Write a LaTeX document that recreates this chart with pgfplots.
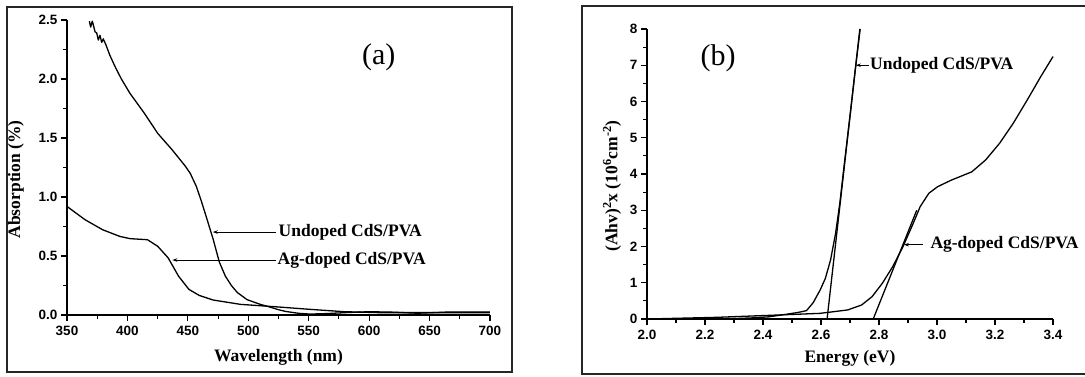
\documentclass[border=0pt]{standalone}
\usepackage{fontspec}
\setmainfont{Liberation Serif}
\newfontfamily\arialfont{Liberation Sans}
\usepackage{pgfplots}
\pgfplotsset{compat=1.18}
\usetikzlibrary{arrows.meta}
\newcommand\tickfont{\arialfont\bfseries\fontsize{13.5}{13.5}\selectfont}
\newcommand\labfont{\bfseries\fontsize{17.5}{17.5}\selectfont}
\pgfplotsset{myax/.style={
  scale only axis, axis x line=bottom, axis y line=left, axis line style={-, line width=1.2pt},
  xtick pos=left, ytick pos=left,
  xtick align=outside, ytick align=outside, major tick length=6pt, minor tick length=4pt,
  xtick style={draw=black, line width=1.1pt}, ytick style={draw=black, line width=1.1pt},
  minor x tick num=1, minor y tick num=1, clip=false,
  ticklabel style={font=\tickfont},
  xticklabel style={yshift=-2pt},
  label style={font=\labfont},
  /pgf/number format/assume math mode=true,
}, curve/.style={black, line width=1.3pt, mark=none, line join=round}}
\begin{document}
\begin{tikzpicture}
\useasboundingbox (0pt,0pt) rectangle (1085pt,376pt);
\draw[line width=1.6pt, black!85] (7pt,4pt) rectangle (512pt,369pt);
\draw[line width=1.6pt, black!85] (582pt,2pt) rectangle (1100pt,370pt);

\begin{axis}[myax, at={(67pt,61pt)}, anchor=south west, width=423pt, height=295pt,
  xmin=350, xmax=700, ymin=0, ymax=2.5,
  xtick={350,400,...,700}, ytick={0,0.5,1,1.5,2,2.5},
  yticklabel style={/pgf/number format/.cd, fixed, fixed zerofill, precision=1},
  xlabel={Wavelength (nm)}, ylabel={Absorption (\%)},
  xlabel style={at={(axis description cs:0.5,-0.1424)}, anchor=center},
  ylabel style={at={(axis description cs:-0.1206,0.46)}, anchor=center},
]
\addplot[curve] coordinates {(368.5,2.49)(369.6,2.44)(370.9,2.49)(371.5,2.47)(373.2,2.40)(374.6,2.39)(375.9,2.33)(377.3,2.37)(378.7,2.31)(380,2.34)(382.2,2.29)(385.5,2.20)(390,2.10)(395,2.00)(402,1.88)(414,1.71)(425,1.54)(437,1.40)(448,1.26)(452,1.20)(457,1.09)(461,0.97)(465,0.84)(471,0.64)(476,0.45)(481,0.33)(486,0.25)(491,0.19)(499,0.13)(510,0.09)(517,0.07)(525,0.045)(531,0.03)(542,0.014)(551,0.008)(565,0.012)(580,0.02)(600,0.028)(620,0.024)(640,0.015)(665,0.025)(700,0.025)};
\addplot[curve] coordinates {(350,0.92)(365,0.807)(379.4,0.723)(393.7,0.666)(402.3,0.647)(416.6,0.638)(425.1,0.582)(433.7,0.484)(442.3,0.329)(450.9,0.217)(459.4,0.166)(470.9,0.127)(493.7,0.09)(522.3,0.07)(550.9,0.048)(579.4,0.028)(608,0.02)(700,0.02)};
\draw[line width=0.9pt, -{Stealth[length=5pt,width=3.5pt]}] (axis cs:522.9,0.703) -- (axis cs:470.6,0.703);
\draw[line width=0.9pt, -{Stealth[length=5pt,width=3.5pt]}] (axis cs:522.8,0.466) -- (axis cs:437.2,0.466);
\node[anchor=west, font=\labfont, inner sep=0pt] at (axis cs:525,0.703) {Undoped CdS/PVA};
\node[anchor=west, font=\labfont, inner sep=0pt] at (axis cs:524.2,0.466) {Ag-doped CdS/PVA};
\node[font=\fontsize{30}{30}\selectfont] at (axis cs:608,2.18) {(a)};
\end{axis}

\begin{axis}[myax, at={(647pt,57pt)}, anchor=south west, width=406pt, height=290pt,
  xmin=2, xmax=3.4, ymin=0, ymax=8,
  xtick={2,2.2,...,3.41}, ytick={0,1,...,8},
  xticklabel style={/pgf/number format/.cd, fixed, fixed zerofill, precision=1},
  xlabel={Energy (eV)}, ylabel={(Ahv)\textsuperscript{2}x (10\textsuperscript{6}cm\textsuperscript{-2})},
  xlabel style={at={(axis description cs:0.5,-0.1345)}, anchor=center},
  ylabel style={at={(axis description cs:-0.0862,0.459)}, anchor=center},
]
\addplot[curve] coordinates {(2.0,0.0)(2.2,0.005)(2.3,0.012)(2.36,0.03)(2.42,0.06)(2.48,0.13)(2.52,0.18)(2.55,0.23)(2.573,0.45)(2.597,0.8)(2.615,1.12)(2.633,1.63)(2.65,2.35)(2.665,3.2)(2.68,4.25)(2.70,5.6)(2.72,7.0)(2.735,8.0)};
\addplot[curve] coordinates {(2.621,0)(2.734,8)};
\addplot[curve] coordinates {(2.0,0.0)(2.24,0.046)(2.419,0.1)(2.597,0.156)(2.692,0.25)(2.74,0.386)(2.776,0.616)(2.811,0.98)(2.847,1.44)(2.883,2.0)(2.918,2.64)(2.942,3.1)(2.972,3.47)(3.002,3.65)(3.049,3.83)(3.12,4.06)(3.168,4.39)(3.216,4.85)(3.263,5.4)(3.311,6.04)(3.358,6.69)(3.4,7.24)};
\addplot[curve] coordinates {(2.78,0)(2.93,3.0)};
\draw[line width=0.9pt, -{Stealth[length=5pt,width=3.5pt]}] (axis cs:2.764,7.0) -- (axis cs:2.72,7.0);
\draw[line width=0.9pt, -{Stealth[length=5pt,width=3.5pt]}] (axis cs:2.952,2.05) -- (axis cs:2.886,2.05);
\node[anchor=west, font=\labfont, inner sep=0pt] at (axis cs:2.769,7.0) {Undoped CdS/PVA};
\node[anchor=west, font=\labfont, inner sep=0pt] at (axis cs:2.977,2.05) {Ag-doped CdS/PVA};
\node[font=\fontsize{30}{30}\selectfont] at (axis cs:2.245,7.19) {(b)};
\end{axis}
\end{tikzpicture}
\end{document}
